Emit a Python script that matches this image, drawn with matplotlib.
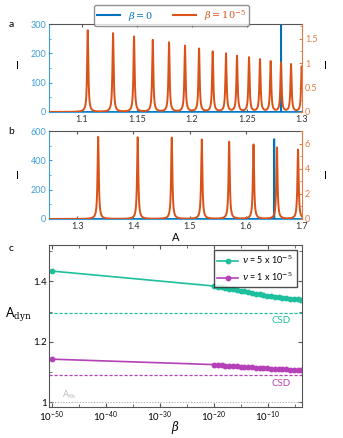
import numpy as np
import matplotlib
matplotlib.use("Agg")
import matplotlib.pyplot as plt
from matplotlib.lines import Line2D
from matplotlib.ticker import MultipleLocator, NullFormatter, FuncFormatter

plt.rcParams['font.family'] = ['Lato', 'DejaVu Sans']
plt.rcParams['mathtext.fontset'] = 'dejavuserif'

# panel a: resonance peaks (beta = 1e-5) and the beta = 0 spike
a_peak_A = [1.1052, 1.1282, 1.1473, 1.1643, 1.1791, 1.1936, 1.2064, 1.2188,
            1.2309, 1.2409, 1.2518, 1.2618, 1.2715, 1.2809, 1.2900, 1.2997]
a_peak_I = [1.67, 1.61, 1.54, 1.47, 1.42, 1.35, 1.29, 1.23,
            1.19, 1.14, 1.11, 1.07, 1.03, 1.00, 0.97, 0.93]
a_spike_A = [1.281]
a_spike_I = [400]

# panel b
b_peak_A = [1.3374, 1.4077, 1.4683, 1.5217, 1.5704, 1.6137, 1.6554, 1.6929]
b_peak_I = [6.54, 6.50, 6.47, 6.32, 6.14, 5.92, 5.68, 5.51]
b_spike_A = [1.6506]
b_spike_I = [545]

# panel c: A_dyn vs beta
beta_exp = [-50] + list(np.round(np.linspace(-20, -3.8, 24), 3))
adyn_v5 = [1.434, 1.3845, 1.382, 1.380, 1.378, 1.376, 1.374, 1.371, 1.369,
           1.367, 1.364, 1.362, 1.359, 1.357, 1.355, 1.353, 1.351, 1.349,
           1.348, 1.346, 1.345, 1.343, 1.342, 1.341, 1.3396]
adyn_v1 = [1.143, 1.125, 1.124, 1.123, 1.122, 1.121, 1.120, 1.119, 1.118,
           1.118, 1.117, 1.116, 1.115, 1.114, 1.114, 1.113, 1.112, 1.111,
           1.111, 1.110, 1.109, 1.108, 1.108, 1.107, 1.106]
csd_v5 = 1.297
csd_v1 = 1.091
a_th = 1.0
c_xticks = [1e-50, 1e-40, 1e-30, 1e-20, 1e-10]
c_xminor = [1e-45, 1e-35, 1e-25, 1e-15, 1e-5]

blue = '#0072BD'
blue_ax = '#3d9ddb'
orange = '#D95319'
orange_ax = '#e57a45'
teal = '#1dbf9c'
magenta = '#b540b8'

fmt_g = FuncFormatter(lambda v, p: f'{v:g}')


def spectrum(x, centers, heights, g):
    y = np.zeros_like(x)
    for c, h in zip(centers, heights):
        y += h * g**2 / ((x - c)**2 + g**2)
    return y


def spectrum_panel(ax, xlim, ylim_l, ylim_r, peaks_A, peaks_I, spike_A, spike_I,
                   g, lticks, lminor, rticks, rminor, xticks):
    x = np.linspace(xlim[0], xlim[1], 8000)
    xs = np.sort(np.concatenate([x, spike_A]))
    ax.plot(xs, spectrum(xs, spike_A, spike_I, 1e-5), color=blue, lw=1.3)
    ax.set_xlim(*xlim)
    ax.set_ylim(*ylim_l)
    ax.yaxis.set_major_locator(MultipleLocator(lticks))
    ax.yaxis.set_minor_locator(MultipleLocator(lminor))
    ax.xaxis.set_major_locator(MultipleLocator(xticks))
    ax.xaxis.set_major_formatter(fmt_g)
    ax.tick_params(which='both', direction='in', top=True, labelsize=6.5,
                   length=2.5, pad=2)
    ax.tick_params(which='minor', length=1.5)
    ax.tick_params(axis='y', which='both', colors=blue_ax)
    ax.tick_params(axis='x', colors='#555555', labelcolor='#333333')
    ax.spines['left'].set_color(blue_ax)
    ax.spines['right'].set_visible(False)
    ax.spines['top'].set_color('#555555')
    ax.spines['bottom'].set_color(blue_ax)

    ax2 = ax.twinx()
    ax2.plot(x, spectrum(x, peaks_A, peaks_I, g), color=orange, lw=1.4)
    ax2.set_ylim(*ylim_r)
    ax2.yaxis.set_major_locator(MultipleLocator(rticks))
    ax2.yaxis.set_minor_locator(MultipleLocator(rminor))
    ax2.yaxis.set_major_formatter(fmt_g)
    ax2.tick_params(which='both', direction='in', labelsize=6.5, length=2.5,
                    pad=2, colors=orange_ax)
    ax2.tick_params(which='minor', length=1.5)
    ax2.spines['right'].set_color(orange_ax)
    for s in ['left', 'top', 'bottom']:
        ax2.spines[s].set_visible(False)
    return ax2


fig = plt.figure(figsize=(3.43, 4.38), dpi=100)

ax_a = fig.add_axes([0.1429, 0.7443, 0.7376, 0.2009])
spectrum_panel(ax_a, (1.07, 1.3), (0, 300), (0, 1.8), a_peak_A, a_peak_I,
               a_spike_A, a_spike_I, 0.00065, 100, 50, 0.5, 0.25, 0.05)

ax_b = fig.add_axes([0.1429, 0.5, 0.7376, 0.2009])
spectrum_panel(ax_b, (1.25, 1.7), (0, 600), (0, 7), b_peak_A, b_peak_I,
               b_spike_A, b_spike_I, 0.0013, 200, 100, 2, 1, 0.1)
ax_b.set_xlabel('A', fontsize=8, labelpad=1)

for y in [0.85, 0.60]:
    fig.text(0.052, y, 'I', fontsize=8, ha='center', va='center')
    fig.text(0.948, y, 'I', fontsize=8, ha='center', va='center')

fig.text(0.025, 0.944, 'a', fontsize=7.5, va='center')
fig.text(0.025, 0.700, 'b', fontsize=7.5, va='center')
fig.text(0.025, 0.433, 'c', fontsize=7.5, va='center')

handles = [Line2D([], [], color=blue, lw=1.5), Line2D([], [], color=orange, lw=1.5)]
leg = fig.legend(handles, [r'$\beta = 0$', r'$\beta = 10^{-5}$'], loc='upper center',
                 bbox_to_anchor=(0.5, 1.0), ncol=2, fontsize=7, frameon=True,
                 fancybox=True, edgecolor='#777777', handlelength=2.4,
                 columnspacing=2.0, borderpad=0.35)
for t, c in zip(leg.get_texts(), [blue, orange]):
    t.set_color(c)

# panel c
ax_c = fig.add_axes([0.1429, 0.0708, 0.7376, 0.3698])
beta = 10.0 ** np.array(beta_exp)
ax_c.plot(beta, adyn_v5, '-o', color=teal, lw=1.2, ms=3.2,
          label=r'$v$ = 5 x 10$^{-5}$')
ax_c.plot(beta, adyn_v1, '-o', color=magenta, lw=1.2, ms=3.2,
          label=r'$v$ = 1 x 10$^{-5}$')
ax_c.axhline(csd_v5, color=teal, ls=(0, (2.5, 1.5)), lw=0.9)
ax_c.axhline(csd_v1, color=magenta, ls=(0, (2.5, 1.5)), lw=0.9)
ax_c.axhline(a_th, color='#aaaaaa', ls=(0, (1, 1.5)), lw=0.8)
ax_c.set_xscale('log')
ax_c.set_xlim(10 ** -50.5, 10 ** -3.7)
ax_c.set_ylim(0.985, 1.52)
ax_c.set_xticks(c_xticks)
ax_c.set_xticks(c_xminor, minor=True)
ax_c.xaxis.set_minor_formatter(NullFormatter())
ax_c.yaxis.set_major_locator(MultipleLocator(0.2))
ax_c.yaxis.set_minor_locator(MultipleLocator(0.1))
ax_c.yaxis.set_major_formatter(fmt_g)
ax_c.tick_params(which='both', direction='in', top=True, right=True,
                 labelsize=7, length=3, pad=1.5, colors='#555555',
                 labelcolor='black')
ax_c.tick_params(which='minor', length=2)
for s in ax_c.spines.values():
    s.set_color('#555555')
ax_c.set_xlabel(r'$\beta$', fontsize=8.5, va='center')
ax_c.xaxis.set_label_coords(0.5, -0.125)
ax_c.set_ylabel(r'A$_{\rm dyn}$', fontsize=9, rotation=0, labelpad=10)
ax_c.yaxis.set_label_coords(-0.12, 0.51)
ax_c.text(0.955, csd_v5 - 0.012, 'CSD', color=teal, fontsize=7,
          ha='right', va='top', transform=ax_c.get_yaxis_transform())
ax_c.text(0.955, csd_v1 - 0.012, 'CSD', color=magenta, fontsize=7,
          ha='right', va='top', transform=ax_c.get_yaxis_transform())
ax_c.text(0.05, a_th + 0.004, r'A$_{\rm th}$', color='#bbbbbb', fontsize=6.5,
          ha='left', va='bottom', transform=ax_c.get_yaxis_transform())
ax_c.legend(loc='upper right', fontsize=6.5, frameon=True, fancybox=False,
            edgecolor='#222222', handlelength=2.3, borderaxespad=0.6,
            handletextpad=0.5)

fig.savefig('out.png', dpi=100)
